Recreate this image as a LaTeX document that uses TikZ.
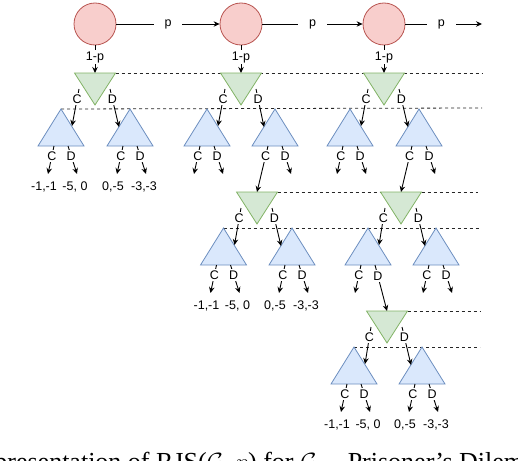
\documentclass[tikz,border=0pt]{standalone}
\usepackage{fontspec}
\newfontfamily\dio{Liberation Sans}
\newfontfamily\capfont{Liberation Serif}
\usetikzlibrary{arrows.meta}
\definecolor{redfill}{HTML}{F8CECC}
\definecolor{reddraw}{HTML}{B85450}
\definecolor{greenfill}{HTML}{D5E8D4}
\definecolor{greendraw}{HTML}{82B366}
\definecolor{bluefill}{HTML}{DAE8FC}
\definecolor{bluedraw}{HTML}{6C8EBF}
\pgfdeclarelayer{bg}
\pgfsetlayers{bg,main}
\tikzset{
  state/.style={circle, draw=reddraw, fill=redfill, minimum size=42pt, inner sep=0pt, line width=0.8pt},
  gtri/.style={draw=greendraw, fill=greenfill, line width=0.8pt},
  btri/.style={draw=bluedraw, fill=bluefill, line width=0.8pt},
  lbl/.style={font=\dio\fontsize{12.5}{14}\selectfont, fill=white, inner xsep=0.5pt, inner ysep=1.5pt},
  plbl/.style={lbl, inner xsep=11pt},
  val/.style={font=\dio\fontsize{12.5}{14}\selectfont, inner sep=0pt},
  arr/.style={-{Stealth[length=6pt,width=5.5pt]}, line width=0.9pt},
  dline/.style={dash pattern=on 3pt off 3pt, line width=0.8pt, draw=black!85},
}
% green (inverted) triangle: name, centre x, top y
\newcommand\greenT[3]{%
  \draw[gtri] (#2-20.5,#3) -- (#2+20.5,#3) -- (#2,#3+32) -- cycle;
  \coordinate (#1) at (#2,#3);
  \coordinate (#1-r) at (#2+20.5,#3);
  \coordinate (#1-c) at (#2-16,#3+16);
  \coordinate (#1-d) at (#2+15,#3+16);}
% blue triangle: name, centre x, apex y
\newcommand\blueT[3]{%
  \draw[btri] (#2,#3) -- (#2+23,#3+37) -- (#2-23,#3+37) -- cycle;
  \coordinate (#1) at (#2,#3);
  \coordinate (#1-l) at (#2-11,#3+18);
  \coordinate (#1-r) at (#2+11,#3+17);
  \coordinate (#1-c) at (#2-7,#3+37);
  \coordinate (#1-d) at (#2+7,#3+37);
  \coordinate (#1-ce) at (#2-13,#3+65);
  \coordinate (#1-de) at (#2+16,#3+65);
  \coordinate (#1-v1) at (#2-17,#3+78);
  \coordinate (#1-v2) at (#2+14,#3+78);}
\newcommand\gkids[3]{%
  \draw[arr] (#1-c) -- node[lbl,pos=0.27] (#1-C) {C} (#2-r);
  \draw[arr] (#1-d) -- node[lbl,pos=0.27] (#1-D) {D} (#3-l);}
\newcommand\shortC[1]{\draw[arr] (#1-c) -- node[lbl,pos=0.36] (#1-C) {C} (#1-ce);}
\newcommand\shortD[1]{\draw[arr] (#1-d) -- node[lbl,pos=0.36] (#1-D) {D} (#1-de);}
\newcommand\leaves[3]{%
  \node[val] (#1-L) at (#1-v1) {#2};
  \node[val] (#1-R) at (#1-v2) {#3};}
\begin{document}
\begin{tikzpicture}[x=1pt,y=-1pt]
\useasboundingbox (0,0) rectangle (518,460);
% chance nodes
\node[state] (c1) at (95,24) {};
\node[state] (c2) at (241,24) {};
\node[state] (c3) at (384,24) {};
\coordinate (pend) at (482,24);
% level 1
\greenT{g1}{95}{73}
\greenT{g2}{241}{73}
\greenT{g3}{384}{73}
\blueT{b11}{61}{109}
\blueT{b12}{130}{109}
\blueT{b21}{207}{109}
\blueT{b22}{275}{109}
\blueT{b31}{350}{109}
\blueT{b32}{419}{109}
% level 2
\greenT{gA}{257}{192}
\greenT{gB}{401}{192}
\blueT{bA1}{223.5}{228}
\blueT{bA2}{292}{228}
\blueT{bB1}{368}{228}
\blueT{bB2}{436}{228}
% level 3
\greenT{gC}{387}{311}
\blueT{bC1}{354}{347}
\blueT{bC2}{422}{347}
% dashed information lines
\coordinate (e1a) at (482,73);
\coordinate (e1b) at (482,108);
\coordinate (e2a) at (478,192);
\coordinate (e2b) at (480,228);
\coordinate (e3a) at (480,311);
\coordinate (e3b) at (480,347);
\begin{pgfonlayer}{bg}
\draw[dline] (g1-r) -- (e1a);
\draw[dline] (b11) -- (e1b);
\draw[dline] (gA-r) -- (e2a);
\draw[dline] (bA1) -- (e2b);
\draw[dline] (gC-r) -- (e3a);
\draw[dline] (bC1) -- (e3b);
\end{pgfonlayer}
% chance transitions
\draw[arr] (c1) -- node[plbl] (p1) {p} (c2);
\draw[arr] (c2) -- node[plbl] (p2) {p} (c3);
\draw[arr] (c3) -- node[plbl,pos=0.47] (p3) {p} (pend);
\draw[arr] (c1) -- node[lbl,pos=0.43] (q1) {1-p} (g1);
\draw[arr] (c2) -- node[lbl,pos=0.43] (q2) {1-p} (g2);
\draw[arr] (c3) -- node[lbl,pos=0.43] (q3) {1-p} (g3);
% green -> blue
\gkids{g1}{b11}{b12}
\gkids{g2}{b21}{b22}
\gkids{g3}{b31}{b32}
\gkids{gA}{bA1}{bA2}
\gkids{gB}{bB1}{bB2}
\gkids{gC}{bC1}{bC2}
% blue children, level 1
\shortC{b11}\shortD{b11}\leaves{b11}{-1,-1}{-5, 0}
\shortC{b12}\shortD{b12}\leaves{b12}{0,-5}{-3,-3}
\shortC{b21}\shortD{b21}
\draw[arr] (b22-c) -- node[lbl,pos=0.22] (b22-C) {C} (gA);
\shortD{b22}
\shortC{b31}\shortD{b31}
\draw[arr] (b32-c) -- node[lbl,pos=0.22] (b32-C) {C} (gB);
\shortD{b32}
% level 2
\shortC{bA1}\shortD{bA1}\leaves{bA1}{-1,-1}{-5, 0}
\shortC{bA2}\shortD{bA2}\leaves{bA2}{0,-5}{-3,-3}
\shortC{bB1}
\draw[arr] (bB1-d) -- node[lbl,pos=0.24] (bB1-D) {D} (gC);
\shortC{bB2}\shortD{bB2}
% level 3
\shortC{bC1}\shortD{bC1}\leaves{bC1}{-1,-1}{-5, 0}
\shortC{bC2}\shortD{bC2}\leaves{bC2}{0,-5}{-3,-3}
% cut-off caption
\begin{scope}
\clip (0,0) rectangle (518,460);
\node[anchor=base west, inner sep=0pt, font=\capfont\fontsize{26}{30}\selectfont] (cap) at (-26,470) {representation of RJS($\mathcal{G}$, $p$) for $\mathcal{G} =$ Prisoner’s Dilemma};
\end{scope}
\end{tikzpicture}
\end{document}
